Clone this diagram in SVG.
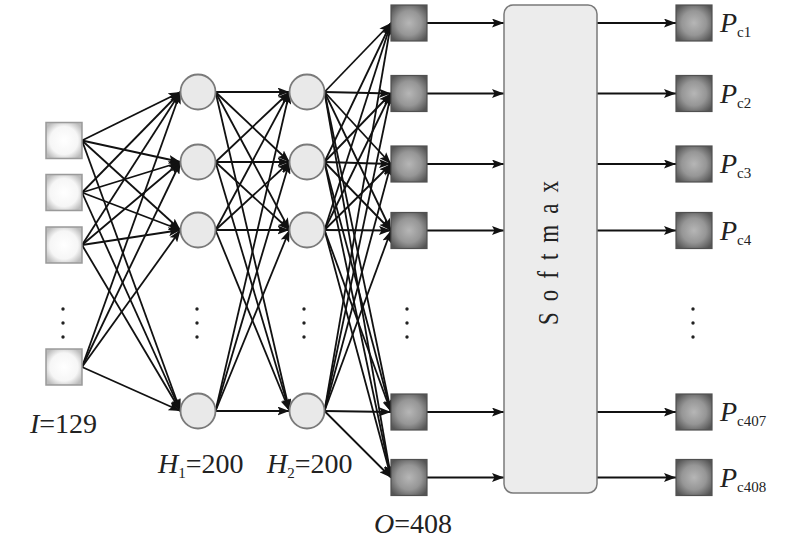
<svg xmlns="http://www.w3.org/2000/svg" width="800" height="542" viewBox="0 0 800 542">
<style>
.in{fill:url(#inG);stroke:#9a9a9a;stroke-width:1.5}
.out{fill:url(#outG);stroke:#505050;stroke-width:1.2}
.hc{fill:#e9e9e9;stroke:#7a7a7a;stroke-width:1.8}
.ln{stroke:#111;stroke-width:1.8;fill:none;marker-end:url(#ah)}
.t{font-family:"Liberation Serif","Times New Roman",serif;font-size:28px;fill:#222}
.s{font-size:15px}
.i{font-style:italic}
.dot{fill:#222}
</style>
<defs>
<radialGradient id="inG" cx="50%" cy="50%" r="60%">
<stop offset="0" stop-color="#ffffff"/><stop offset="0.65" stop-color="#f6f6f6"/><stop offset="1" stop-color="#bcbcbc"/>
</radialGradient>
<radialGradient id="outG" cx="50%" cy="50%" r="62%">
<stop offset="0" stop-color="#b6b6b6"/><stop offset="0.55" stop-color="#969696"/><stop offset="1" stop-color="#555555"/>
</radialGradient>
<marker id="ah" viewBox="0 0 12 9" refX="12" refY="4.5" markerWidth="12" markerHeight="9" markerUnits="userSpaceOnUse" orient="auto">
<path d="M0,0 L12,4.5 L0,9 L2.5,4.5 z" fill="#111"/>
</marker>
</defs>

<g id="connectors">
<line class="ln" x1="82" y1="140.5" x2="180.5" y2="92"/>
<line class="ln" x1="82" y1="140.5" x2="180.5" y2="162"/>
<line class="ln" x1="82" y1="140.5" x2="180.5" y2="230"/>
<line class="ln" x1="82" y1="140.5" x2="180.5" y2="411"/>
<line class="ln" x1="82" y1="192.5" x2="180.5" y2="92"/>
<line class="ln" x1="82" y1="192.5" x2="180.5" y2="162"/>
<line class="ln" x1="82" y1="192.5" x2="180.5" y2="230"/>
<line class="ln" x1="82" y1="192.5" x2="180.5" y2="411"/>
<line class="ln" x1="82" y1="245" x2="180.5" y2="92"/>
<line class="ln" x1="82" y1="245" x2="180.5" y2="162"/>
<line class="ln" x1="82" y1="245" x2="180.5" y2="230"/>
<line class="ln" x1="82" y1="245" x2="180.5" y2="411"/>
<line class="ln" x1="82" y1="367" x2="180.5" y2="92"/>
<line class="ln" x1="82" y1="367" x2="180.5" y2="162"/>
<line class="ln" x1="82" y1="367" x2="180.5" y2="230"/>
<line class="ln" x1="82" y1="367" x2="180.5" y2="411"/>
<line class="ln" x1="215.5" y1="92" x2="289.5" y2="92"/>
<line class="ln" x1="215.5" y1="92" x2="289.5" y2="162"/>
<line class="ln" x1="215.5" y1="92" x2="289.5" y2="230"/>
<line class="ln" x1="215.5" y1="92" x2="289.5" y2="411"/>
<line class="ln" x1="215.5" y1="162" x2="289.5" y2="92"/>
<line class="ln" x1="215.5" y1="162" x2="289.5" y2="162"/>
<line class="ln" x1="215.5" y1="162" x2="289.5" y2="230"/>
<line class="ln" x1="215.5" y1="162" x2="289.5" y2="411"/>
<line class="ln" x1="215.5" y1="230" x2="289.5" y2="92"/>
<line class="ln" x1="215.5" y1="230" x2="289.5" y2="162"/>
<line class="ln" x1="215.5" y1="230" x2="289.5" y2="230"/>
<line class="ln" x1="215.5" y1="230" x2="289.5" y2="411"/>
<line class="ln" x1="215.5" y1="411" x2="289.5" y2="92"/>
<line class="ln" x1="215.5" y1="411" x2="289.5" y2="162"/>
<line class="ln" x1="215.5" y1="411" x2="289.5" y2="230"/>
<line class="ln" x1="215.5" y1="411" x2="289.5" y2="411"/>
<line class="ln" x1="324.5" y1="92" x2="391" y2="23"/>
<line class="ln" x1="324.5" y1="92" x2="391" y2="93.5"/>
<line class="ln" x1="324.5" y1="92" x2="391" y2="164"/>
<line class="ln" x1="324.5" y1="92" x2="391" y2="230.5"/>
<line class="ln" x1="324.5" y1="92" x2="391" y2="412"/>
<line class="ln" x1="324.5" y1="92" x2="391" y2="477.5"/>
<line class="ln" x1="324.5" y1="162" x2="391" y2="23"/>
<line class="ln" x1="324.5" y1="162" x2="391" y2="93.5"/>
<line class="ln" x1="324.5" y1="162" x2="391" y2="164"/>
<line class="ln" x1="324.5" y1="162" x2="391" y2="230.5"/>
<line class="ln" x1="324.5" y1="162" x2="391" y2="412"/>
<line class="ln" x1="324.5" y1="162" x2="391" y2="477.5"/>
<line class="ln" x1="324.5" y1="230" x2="391" y2="23"/>
<line class="ln" x1="324.5" y1="230" x2="391" y2="93.5"/>
<line class="ln" x1="324.5" y1="230" x2="391" y2="164"/>
<line class="ln" x1="324.5" y1="230" x2="391" y2="230.5"/>
<line class="ln" x1="324.5" y1="230" x2="391" y2="412"/>
<line class="ln" x1="324.5" y1="230" x2="391" y2="477.5"/>
<line class="ln" x1="324.5" y1="411" x2="391" y2="23"/>
<line class="ln" x1="324.5" y1="411" x2="391" y2="93.5"/>
<line class="ln" x1="324.5" y1="411" x2="391" y2="164"/>
<line class="ln" x1="324.5" y1="411" x2="391" y2="230.5"/>
<line class="ln" x1="324.5" y1="411" x2="391" y2="412"/>
<line class="ln" x1="324.5" y1="411" x2="391" y2="477.5"/>
<line class="ln" x1="427" y1="23" x2="504" y2="23"/>
<line class="ln" x1="427" y1="93.5" x2="504" y2="93.5"/>
<line class="ln" x1="427" y1="164" x2="504" y2="164"/>
<line class="ln" x1="427" y1="230.5" x2="504" y2="230.5"/>
<line class="ln" x1="427" y1="412" x2="504" y2="412"/>
<line class="ln" x1="427" y1="477.5" x2="504" y2="477.5"/>
<line class="ln" x1="597" y1="23" x2="676" y2="23"/>
<line class="ln" x1="597" y1="93.5" x2="676" y2="93.5"/>
<line class="ln" x1="597" y1="164" x2="676" y2="164"/>
<line class="ln" x1="597" y1="230.5" x2="676" y2="230.5"/>
<line class="ln" x1="597" y1="412" x2="676" y2="412"/>
<line class="ln" x1="597" y1="477.5" x2="676" y2="477.5"/>
</g>

<g id="input-layer">
<rect id="in1" class="in" x="46" y="122.5" width="36" height="36"/>
<rect id="in2" class="in" x="46" y="174.5" width="36" height="36"/>
<rect id="in3" class="in" x="46" y="227" width="36" height="36"/>
<rect id="in129" class="in" x="46" y="349" width="36" height="36"/>
<circle class="dot" cx="63" cy="309" r="1.7"/><circle class="dot" cx="63" cy="323" r="1.7"/><circle class="dot" cx="63" cy="337" r="1.7"/>
</g>

<g id="hidden1">
<circle id="h1a" class="hc" cx="198" cy="92" r="17.5"/>
<circle id="h1b" class="hc" cx="198" cy="162" r="17.5"/>
<circle id="h1c" class="hc" cx="198" cy="230" r="17.5"/>
<circle id="h1d" class="hc" cx="198" cy="411" r="17.5"/>
<circle class="dot" cx="197" cy="309" r="1.7"/><circle class="dot" cx="197" cy="323" r="1.7"/><circle class="dot" cx="197" cy="337" r="1.7"/>
</g>

<g id="hidden2">
<circle id="h2a" class="hc" cx="307" cy="92" r="17.5"/>
<circle id="h2b" class="hc" cx="307" cy="162" r="17.5"/>
<circle id="h2c" class="hc" cx="307" cy="230" r="17.5"/>
<circle id="h2d" class="hc" cx="307" cy="411" r="17.5"/>
<circle class="dot" cx="304" cy="309" r="1.7"/><circle class="dot" cx="304" cy="323" r="1.7"/><circle class="dot" cx="304" cy="337" r="1.7"/>
</g>

<g id="output-layer">
<rect id="o1" class="out" x="391" y="5" width="36" height="36"/>
<rect id="o2" class="out" x="391" y="75.5" width="36" height="36"/>
<rect id="o3" class="out" x="391" y="146" width="36" height="36"/>
<rect id="o4" class="out" x="391" y="212.5" width="36" height="36"/>
<rect id="o407" class="out" x="391" y="394" width="36" height="36"/>
<rect id="o408" class="out" x="391" y="459.5" width="36" height="36"/>
<circle class="dot" cx="407" cy="309" r="1.7"/><circle class="dot" cx="407" cy="323" r="1.7"/><circle class="dot" cx="407" cy="337" r="1.7"/>
</g>

<g id="softmax">
<rect x="504" y="5" width="93" height="488" rx="9" ry="9" fill="#ececec" stroke="#7a7a7a" stroke-width="1.5"/>
<text class="t" transform="translate(558,325) scale(1.3,1) rotate(-90)" x="0" y="0" style="font-size:23px;letter-spacing:11px">Softmax</text>
</g>

<g id="prob-layer">
<rect id="p1" class="out" x="676" y="5" width="36" height="36"/>
<rect id="p2" class="out" x="676" y="75.5" width="36" height="36"/>
<rect id="p3" class="out" x="676" y="146" width="36" height="36"/>
<rect id="p4" class="out" x="676" y="212.5" width="36" height="36"/>
<rect id="p407" class="out" x="676" y="394" width="36" height="36"/>
<rect id="p408" class="out" x="676" y="459.5" width="36" height="36"/>
<circle class="dot" cx="693" cy="309" r="1.7"/><circle class="dot" cx="693" cy="323" r="1.7"/><circle class="dot" cx="693" cy="337" r="1.7"/>
<text class="t" x="720" y="32"><tspan class="i">P</tspan><tspan class="s" dy="5">c1</tspan></text>
<text class="t" x="720" y="102.5"><tspan class="i">P</tspan><tspan class="s" dy="5">c2</tspan></text>
<text class="t" x="720" y="173"><tspan class="i">P</tspan><tspan class="s" dy="5">c3</tspan></text>
<text class="t" x="720" y="239.5"><tspan class="i">P</tspan><tspan class="s" dy="5">c4</tspan></text>
<text class="t" x="720" y="421"><tspan class="i">P</tspan><tspan class="s" dy="5">c407</tspan></text>
<text class="t" x="720" y="486.5"><tspan class="i">P</tspan><tspan class="s" dy="5">c408</tspan></text>
</g>

<g id="labels">
<text class="t" x="30" y="433"><tspan class="i">I</tspan>=129</text>
<text class="t" x="158" y="473"><tspan class="i">H</tspan><tspan class="s" dy="5">1</tspan><tspan dy="-5">=200</tspan></text>
<text class="t" x="267" y="473"><tspan class="i">H</tspan><tspan class="s" dy="5">2</tspan><tspan dy="-5">=200</tspan></text>
<text class="t" x="374" y="533"><tspan class="i">O</tspan>=408</text>
</g>
</svg>
